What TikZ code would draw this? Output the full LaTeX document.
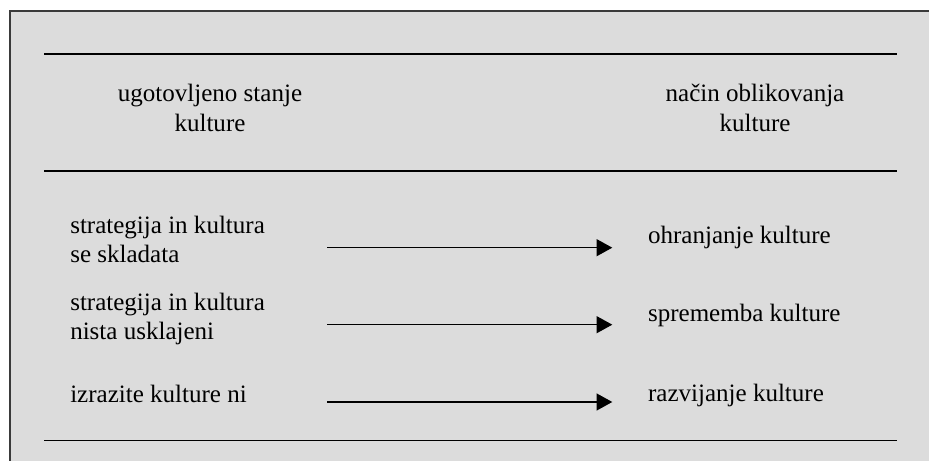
\documentclass[tikz,border=0pt]{standalone}
\usepackage{fontspec}
\setmainfont{Liberation Serif}
\usetikzlibrary{arrows.meta}

\definecolor{panelgray}{RGB}{220,220,220}
\definecolor{framegray}{RGB}{58,58,58}

\begin{document}
\begin{tikzpicture}[
        rule/.style={line width=0.045cm},
        link/.style={line width=0.038cm, -{Triangle[length=0.39cm,width=0.42cm]}},
        head/.style={inner sep=0pt, align=center, anchor=base},
        item/.style={inner sep=0pt, align=left, anchor=base west}]
                \useasboundingbox (0.000000,0.000000) rectangle (23.225000,11.525000);
                \clip (0.000000,0.000000) rectangle (23.225000,11.525000);
                {\fontsize{17.8}{21.3}\selectfont

                % Grey panel with its frame
                \draw [fill=panelgray, draw=framegray, line width=0.05cm] (0.250000,-1.000000) rectangle (24.500000,11.242500);%

                % Drawing rules of the table
                \draw [rule] (1.100000,10.175000) -- (22.425000,10.175000);%
                \draw [rule] (1.100000,7.250000) -- (22.425000,7.250000);%
                \draw [rule] (1.100000,0.512500) -- (22.425000,0.512500);%

                % Marking column heads (base is the last line)
                \node (statehead) [head] at (5.250000,8.237500) {ugotovljeno stanje\\kulture};%
                \node (shapehead) [head] at (18.875000,8.237500) {način oblikovanja\\kulture};%

                % Marking states of culture
                \node (fit) [item] at (1.750000,4.950000) {strategija in kultura\\se skladata};%
                \node (misfit) [item] at (1.750000,3.025000) {strategija in kultura\\nista usklajeni};%
                \node (none) [item] at (1.750000,1.457500) {izrazite kulture ni};%

                % Marking ways of shaping culture
                \node (keep) [item] at (16.195000,5.442500) {ohranjanje kulture};%
                \node (change) [item] at (16.195000,3.482500) {sprememba kulture};%
                \node (grow) [item] at (16.195000,1.482500) {razvijanje kulture};%

                % Arrow ends
                \coordinate (fitR) at (8.182500,5.332500);%
                \coordinate (keepL) at (15.307500,5.332500);%
                \coordinate (misfitR) at (8.182500,3.407500);%
                \coordinate (changeL) at (15.307500,3.407500);%
                \coordinate (noneR) at (8.182500,1.475000);%
                \coordinate (growL) at (15.307500,1.475000);%

                % Drawing arrows
                \draw [link] (fitR) -- (keepL);%
                \draw [link] (misfitR) -- (changeL);%
                \draw [link] (noneR) -- (growL);%
                }
            \end{tikzpicture}
\end{document}
